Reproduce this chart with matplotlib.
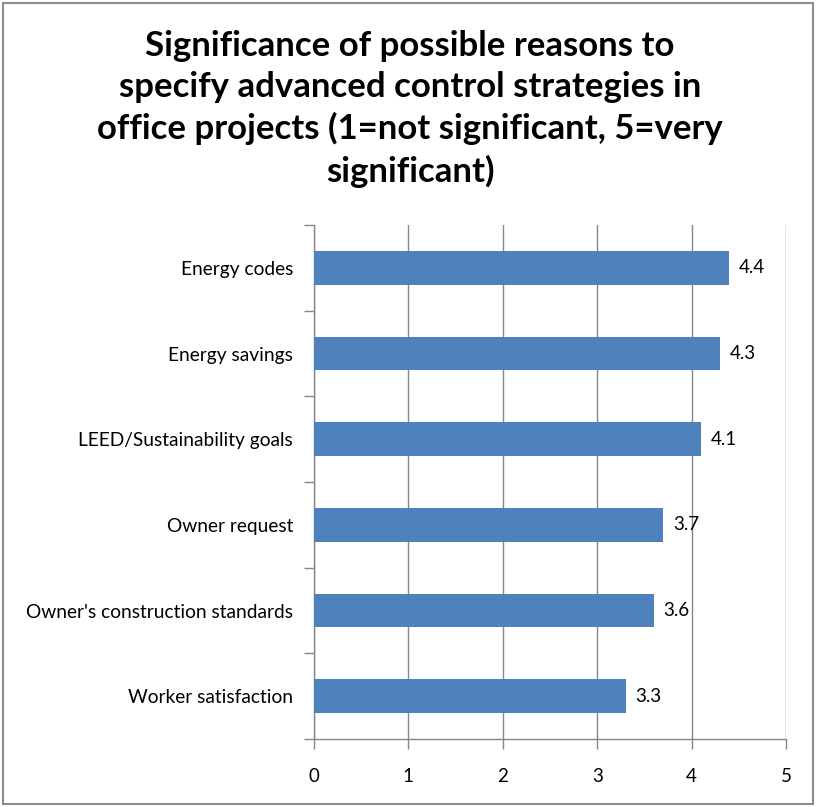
import matplotlib.pyplot as plt
import matplotlib.patches as patches
import numpy as np

# Data
reasons = ["Worker satisfaction", "Owner's construction standards", "Owner request",
           "LEED/Sustainability goals", "Energy savings", "Energy codes"]
scores = [3.3, 3.6, 3.7, 4.1, 4.3, 4.4]
x_ticks = [0, 1, 2, 3, 4, 5]

plt.rcParams['font.family'] = ['Lato', 'DejaVu Sans']

fig = plt.figure(figsize=(8.2, 8.07), dpi=100)
ax = fig.add_axes([314 / 820, 1 - 739 / 807, 472 / 820, 514 / 807])

# outer chart border like the Excel chart area
fig.patches.append(patches.Rectangle((3 / 820, 3 / 807), 810 / 820, 801 / 807,
                                     transform=fig.transFigure, fill=False,
                                     edgecolor='#8c8c8c', linewidth=1.5))

y = np.arange(len(reasons))
ax.barh(y, scores, height=0.39, color='#4F81BD', zorder=3)

for yi, s in zip(y, scores):
    ax.text(s + 0.1, yi, f"{s:.1f}", va='center', ha='left', fontsize=13.5)

ax.set_xlim(0, 5)
ax.set_ylim(-0.5, len(reasons) - 0.5)
ax.set_xticks(x_ticks)
ax.set_xticklabels([str(v) for v in x_ticks])
ax.grid(axis='x', color='#868686', linewidth=1, zorder=0)

# category labels without ticks, boundary ticks as minor
ax.set_yticks(y)
ax.set_yticklabels(reasons)
ax.set_yticks(np.arange(-0.5, len(reasons)), minor=True)
ax.tick_params(axis='y', which='major', length=0, pad=15, labelsize=13.8)
ax.tick_params(axis='y', which='minor', length=7, color='#868686', width=1)
ax.tick_params(axis='x', length=7, color='#868686', width=1, pad=14, labelsize=13.5)

for side in ['top', 'right']:
    ax.spines[side].set_visible(False)
for side in ['left', 'bottom']:
    ax.spines[side].set_color('#868686')
    ax.spines[side].set_linewidth(1)

fig.text(0.5, 1 - 109 / 807,
         "Significance of possible reasons to\nspecify advanced control strategies in\n"
         "office projects (1=not significant, 5=very\nsignificant)",
         ha='center', va='center', fontsize=25, fontweight='bold', linespacing=1.34)

fig.savefig("out.png", dpi=100)
